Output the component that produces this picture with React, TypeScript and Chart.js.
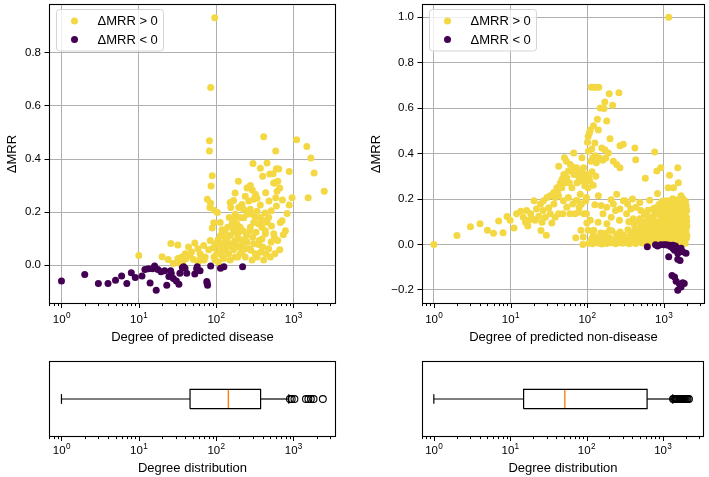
import React, { useEffect, useRef } from 'react';
import { Chart, registerables } from 'chart.js';

Chart.register(...registerables);

const FONT = '"Liberation Sans", Arial, Helvetica, sans-serif';
const YELLOW = '#f3d843';
const PURPLE = '#440154';
const GRID = '#b0b0b0';
const MEDIAN = '#ff7f0e';

// ---------- axis ticks / labels ----------
const xMajorTicks = [1, 10, 100, 1000];
const xMajorExponents = ['0', '1', '2', '3'];
const xDecades = [0.1, 1, 10, 100, 1000];
const xMinorMultipliers = [2, 3, 4, 5, 6, 7, 8, 9];
const diseaseYTicks = [0, 0.2, 0.4, 0.6, 0.8];
const nonDiseaseYTicks = [-0.2, 0, 0.2, 0.4, 0.6, 0.8, 1.0];
const legendLabels = ['ΔMRR > 0', 'ΔMRR < 0'];
const yTitle = 'ΔMRR';
const diseaseXTitle = 'Degree of predicted disease';
const nonDiseaseXTitle = 'Degree of predicted non-disease';
const boxXTitle = 'Degree distribution';

// ---------- data: [degree, ΔMRR] ----------
const diseasePositive: [number, number][] = [
  [10, 0.036], [20, 0.032], [26, 0.082], [32, 0.076], [24, 0.021], [28, 0.006], [36, 0.031], [40, 0.043],
  [44, 0.068], [48, 0.05], [53, 0.083], [58, 0.062], [62, 0.043], [69, 0.074], [72, 0.031], [80, 0.058],
  [84, 0.093], [82, 0.469], [82, 0.43], [85, 0.67], [96, 0.933], [89, 0.337], [86, 0.298], [77, 0.248],
  [85, 0.233], [83, 0.217], [94, 0.207], [104, 0.198], [89, 0.14], [93, 0.16], [113, 0.161], [119, 0.133],
  [152, 0.236], [168, 0.244], [194, 0.316], [176, 0.272], [251, 0.291], [277, 0.3], [294, 0.283], [306, 0.248],
  [338, 0.252], [322, 0.267], [300, 0.383], [373, 0.365], [412, 0.484], [400, 0.335], [455, 0.385], [493, 0.344],
  [545, 0.345], [567, 0.31], [590, 0.43], [602, 0.363], [645, 0.362], [627, 0.316], [614, 0.279], [665, 0.291],
  [880, 0.353], [1100, 0.473], [1490, 0.447], [1680, 0.404], [1850, 0.347], [2500, 0.279], [1550, 0.254], [960, 0.254],
  [828, 0.195], [880, 0.227], [720, 0.246], [740, 0.115], [665, 0.058], [567, 0.103], [520, 0.148], [455, 0.162],
  [430, 0.197], [373, 0.227], [338, 0.203], [277, 0.211], [251, 0.192], [227, 0.179], [205, 0.143], [186, 0.155],
  [168, 0.128], [152, 0.112], [138, 0.096], [125, 0.081], [113, 0.062], [102, 0.043], [94, 0.031], [107, 0.012],
  [125, 0.025], [145, 0.043], [168, 0.058], [190, 0.071], [216, 0.05], [238, 0.031], [264, 0.062], [292, 0.019],
  [322, 0.043], [355, 0.078], [392, 0.099], [433, 0.118], [478, 0.062], [515, 0.087], [556, 0.118], [575, 0.043],
  [627, 0.093], [678, 0.161], [713, 0.167], [788, 0.13], [148, 0.18], [177, 0.192], [196, 0.217], [216, 0.229],
  [238, 0.26], [264, 0.242], [292, 0.192], [322, 0.18], [355, 0.155], [392, 0.143], [433, 0.13], [478, 0.18],
  [515, 0.205], [483, 0.242], [437, 0.273], [590, 0.254], [602, 0.223], [556, 0.31],
  [92, 0.066], [98, 0.081], [106, 0.096], [114, 0.112], [131, 0.124], [141, 0.143], [160, 0.155], [172, 0.174],
  [186, 0.118], [200, 0.099], [222, 0.13], [246, 0.112], [272, 0.13], [297, 0.105], [328, 0.124], [362, 0.093],
  [400, 0.068], [441, 0.043], [306, 0.081], [251, 0.087], [205, 0.043], [176, 0.031], [152, 0.019], [132, 0.056],
  [119, 0.037], [97, 0.019], [70, 0.019], [63, 0.025], [59, 0.012], [51, 0.021], [46, 0.037], [41, 0.025],
  [37, 0.012], [34, 0.006], [32, 0.025], [338, 0.031], [412, 0.019], [503, 0.031], [373, 0.18], [412, 0.167],
  [306, 0.161], [277, 0.143], [227, 0.211], [205, 0.18], [155, 0.217], [172, 0.136], [196, 0.124], [222, 0.074],
  [233, 0.062], [282, 0.056], [380, 0.05], [190, 0.031], [113, 0.081], [122, 0.118], [131, 0.099], [145, 0.071],
  [160, 0.081], [176, 0.093], [196, 0.068], [216, 0.093],
];

const diseaseNegative: [number, number][] = [
  [1, -0.06], [2, -0.035], [3, -0.069], [4, -0.069], [5, -0.057], [6, -0.041], [7, -0.069], [8, -0.029],
  [9, -0.047], [11, -0.041], [12, -0.016], [13.3, -0.014], [14, -0.067], [15, -0.014], [16, -0.003], [16.8, -0.095],
  [17.7, -0.016], [19.4, -0.025], [21.6, -0.021], [23, -0.076], [24.5, -0.043], [26.3, -0.031], [28, -0.05], [30.6, -0.06],
  [33, -0.072], [36.6, -0.01], [38, -0.006], [41.7, -0.031], [53, -0.033], [57, -0.006], [62, -0.021], [75.8, -0.062],
  [77.5, -0.076], [76.5, -0.068], [85, -0.003], [114, -0.012], [126, -0.006], [220, -0.006], [34, -0.031], [39.6, -0.012],
  [25.8, -0.021], [56, -0.014],
];

const nonDiseasePositive: [number, number][] = [
  [1, 0], [2, 0.039], [3, 0.078], [4, 0.091], [5, 0.062], [6, 0.049], [7, 0.103], [8, 0.052],
  [9, 0.123], [9.9, 0.106], [11.1, 0.072], [12, 0.135], [13.6, 0.146], [14.7, 0.12], [16.2, 0.149], [16.8, 0.081],
  [18.3, 0.135], [20.3, 0.192], [21.8, 0.156], [23.4, 0.124], [25, 0.061], [26.6, 0.149], [29.4, 0.041], [31.5, 0.161],
  [34.6, 0.094], [36.8, 0.178], [38.4, 0.207], [41.2, 0.226], [42.5, 0.344], [44.9, 0.272], [47, 0.287], [49.6, 0.308],
  [50.5, 0.381], [53.6, 0.366], [57, 0.323], [60.4, 0.352], [63.2, 0.25], [66.7, 0.402], [68, 0.337], [71, 0.03],
  [74, 0.272], [78, 0.298], [81.4, 0.221], [85.6, 0.381], [89.9, 0.337], [88, 0.0], [93, 0.258], [96, 0.192],
  [99, 0.094], [100, 0.308], [103, 0.475], [110, 0.504], [112, 0.366], [113, 0.692], [122, 0.692], [134, 0.692],
  [142, 0.692], [121, 0.522], [126, 0.446], [136, 0.551], [140, 0.504], [148, 0.6], [155, 0.424], [166, 0.598],
  [170, 0.627], [180, 0.543], [194, 0.663], [215, 0.612], [260, 0.667], [199, 0.465], [170, 0.417], [189, 0.402],
  [220, 0.366], [268, 0.434], [296, 0.441], [420, 0.424], [760, 0.407], [430, 0.373], [268, 0.337], [243, 0.352],
  [574, 0.291], [812, 0.323], [914, 0.337], [1188, 0.304], [1522, 0.337], [1550, 0.272], [1340, 0.25], [1140, 0.25],
  [828, 0.224], [655, 0.195], [486, 0.185], [390, 0.2], [310, 0.192], [243, 0.221], [205, 0.197], [140, 0.214],
  [126, 0.175], [152, 0.171], [180, 0.164], [220, 0.178], [268, 0.156], [327, 0.135], [399, 0.113], [486, 0.113],
  [593, 0.135], [723, 0.156], [882, 0.178], [1076, 0.192], [1312, 0.2], [1680, 0.214], [1850, 0.178], [1850, 0.135],
  [1767, 0.106], [1850, 0.062], [1767, 0.019], [1160, 1.0],
  [101, 0.45], [104, 0.41], [107, 0.49], [115, 0.42], [118, 0.38], [128, 0.39], [132, 0.36], [145, 0.38],
  [160, 0.37], [175, 0.38], [105, 0.3], [108, 0.28], [116, 0.32], [120, 0.26], [130, 0.3],
  [110, 0.106], [122, 0.062], [139, 0.098], [161, 0.135], [181, 0.091], [206, 0.12], [234, 0.149], [264, 0.106],
  [297, 0.192], [337, 0.178], [372, 0.156], [432, 0.164], [501, 0.149], [169, 0.048], [196, 0.062], [103, 0.062],
  [89, 0.033], [98, 0.135], [83, 0.062], [77, 0.142], [71, 0.192], [98, 0.207], [103, 0.25],
  [24.6, 0.178], [27, 0.192], [29.9, 0.207], [33, 0.214], [36.6, 0.229], [40.3, 0.25], [43.6, 0.258], [46.7, 0.25],
  [51.5, 0.272], [54.2, 0.294], [58.6, 0.272], [62.8, 0.323], [67.3, 0.308], [72.8, 0.337], [78.8, 0.323], [85.2, 0.279],
  [90.6, 0.308], [98.1, 0.279], [42.3, 0.214], [49, 0.192], [56.9, 0.207], [64.7, 0.178], [74.3, 0.192], [84.4, 0.178],
  [90.6, 0.135], [78.8, 0.164], [69.3, 0.135], [59.7, 0.135], [54.2, 0.164], [48.3, 0.135], [42.3, 0.135], [38.3, 0.12],
  [33, 0.135], [28.5, 0.12], [25.8, 0.098], [21.1, 0.106], [19.2, 0.113], [17.4, 0.106], [15.7, 0.098],
  [105, 0.005], [112, 0.015], [118, 0.003], [125, 0.01], [132, 0.02], [140, 0.006], [148, 0.012], [155, 0.002],
  [163, 0.018], [172, 0.008], [180, 0.004], [190, 0.014], [200, 0.022], [210, 0.007], [222, 0.012], [235, 0.003],
  [248, 0.017], [260, 0.009], [275, 0.025], [290, 0.005], [305, 0.014], [320, 0.02], [338, 0.008], [355, 0.003],
  [372, 0.016], [390, 0.026], [410, 0.01], [430, 0.004], [452, 0.018], [475, 0.03], [498, 0.012], [522, 0.006],
  [548, 0.022], [575, 0.035], [602, 0.015], [630, 0.004], [660, 0.027], [690, 0.012], [720, 0.04], [750, 0.02],
  [785, 0.008], [820, 0.032], [855, 0.016], [890, 0.045], [930, 0.025], [970, 0.01], [1010, 0.05], [1050, 0.03],
  [1100, 0.015], [1150, 0.06], [1200, 0.035], [1260, 0.02], [1320, 0.055], [1380, 0.04], [1450, 0.07], [1520, 0.05],
  [1600, 0.03], [1680, 0.065], [1760, 0.045], [1850, 0.02],
  [120, 0.04], [150, 0.05], [180, 0.035], [210, 0.06], [240, 0.045], [270, 0.055], [300, 0.04], [340, 0.065],
  [380, 0.05], [420, 0.07], [460, 0.045], [500, 0.075], [540, 0.06], [590, 0.085], [640, 0.055], [690, 0.09],
  [740, 0.07], [800, 0.1], [860, 0.08], [920, 0.11], [980, 0.09], [1040, 0.12], [1100, 0.095], [1170, 0.13],
  [1240, 0.105], [1310, 0.14], [1390, 0.115], [1470, 0.15], [1560, 0.125], [1650, 0.16], [1750, 0.135], [1850, 0.17],
  [1950, 0.145],
  [560, 0.13], [620, 0.15], [700, 0.12], [760, 0.16], [830, 0.14], [900, 0.17], [960, 0.15], [1020, 0.18],
  [1090, 0.16], [1160, 0.19], [1230, 0.17], [1300, 0.2], [1370, 0.18], [1440, 0.195], [1520, 0.175], [1600, 0.2],
  [1700, 0.185], [1800, 0.195], [1900, 0.16], [1980, 0.12], [2000, 0.08], [2000, 0.04],
  [950, 0.06], [1000, 0.1], [1080, 0.07], [1150, 0.11], [1220, 0.08], [1290, 0.12], [1360, 0.09], [1430, 0.13],
  [1500, 0.1], [1580, 0.09], [1660, 0.11], [1740, 0.1], [1820, 0.12], [1900, 0.09], [1950, 0.06], [1120, 0.04],
  [1280, 0.01], [1420, 0.02], [1560, 0.01], [1700, 0.015], [1900, 0.005], [880, 0.06], [780, 0.045], [680, 0.06],
  [600, 0.05], [520, 0.04], [450, 0.06],
  [115, 0.025], [135, 0.03], [165, 0.028], [195, 0.03], [230, 0.02], [265, 0.035], [310, 0.03], [360, 0.035],
  [400, 0.042], [440, 0.03], [490, 0.05], [530, 0.025], [560, 0.055], [610, 0.035], [650, 0.07], [700, 0.05],
  [760, 0.085], [810, 0.06], [870, 0.1], [940, 0.075], [1000, 0.13], [1060, 0.085], [1130, 0.15], [1190, 0.12],
  [1250, 0.16], [1330, 0.13], [1400, 0.17], [1480, 0.14], [1550, 0.185], [1630, 0.15], [1720, 0.17], [1800, 0.14],
  [1880, 0.11], [1950, 0.1], [1990, 0.03], [1700, 0.08], [1600, 0.12], [1500, 0.06], [1400, 0.1], [1300, 0.07],
  [1200, 0.005], [1100, 0.14], [1000, 0.02], [900, 0.13], [800, 0.03], [700, 0.1], [650, 0.11], [580, 0.1],
  [520, 0.08], [470, 0.1], [410, 0.09], [350, 0.1], [1780, 0.2], [1680, 0.19], [1580, 0.16], [1460, 0.18],
  [1350, 0.15], [1250, 0.19], [1150, 0.17], [1050, 0.15], [950, 0.19], [850, 0.17], [750, 0.13], [1920, 0.19],
  [1960, 0.17], [1990, 0.15], [1990, 0.1],
];

const nonDiseaseNegative: [number, number][] = [
  [610, -0.01], [780, -0.001], [828, -0.007], [914, -0.001], [1000, -0.001], [1140, -0.003], [1188, -0.003], [1240, -0.01],
  [1312, -0.017], [1380, -0.025], [1449, -0.013], [1522, -0.022], [1600, -0.027], [1680, -0.017], [1522, -0.039], [1767, -0.032],
  [1951, -0.039], [1160, -0.054], [1522, -0.065], [1630, -0.071], [1280, -0.137], [1380, -0.143], [1449, -0.162], [1600, -0.174],
  [1680, -0.187], [1767, -0.169], [1850, -0.172], [1522, -0.201], [1312, -0.003], [1420, -0.007], [1076, -0.001],
];

// box stats: [whisker low, Q1, median, Q3, whisker high]
const diseaseBox = [1, 46, 144, 376, 870];
const diseaseOutliers = [900, 950, 1030, 1450, 1560, 1680, 1820, 2400];
const nonDiseaseBox = [1, 15, 52, 622, 1345];
const nonDiseaseOutliers = [1360, 1400, 1440, 1480, 1520, 1560, 1600, 1640, 1680, 1720, 1760, 1800, 1850, 1900, 1950, 2000, 2060, 2120, 2200];

// ---------- style constants ----------
const BOX_HALF = 0.1275;
const CAP_HALF = 0.064;
const TICK_FONT = 11.5;
const SUP_FONT = 8.2;
const POINT_R = 3.5;

const toXY = (arr: [number, number][]) => arr.map(([x, y]) => ({ x, y }));

const fmtY = (v: any) => {
  const n = Number(v);
  const s = Math.abs(n).toFixed(1);
  return n < -1e-9 ? '\u2212' + s : s;
};

function decorPlugin(cfg: { legend: boolean; labelOffset: number }) {
  return {
    id: 'decor',
    afterDatasetsDraw(chart: any) {
      const { ctx, chartArea: a } = chart;
      const xs = chart.scales.x;
      ctx.save();
      // frame
      ctx.strokeStyle = '#000';
      ctx.lineWidth = 1.1;
      const l = Math.round(a.left) + 0.5;
      const r = Math.round(a.right) - 0.5;
      const t = Math.round(a.top) + 0.5;
      const b = Math.round(a.bottom) - 0.5;
      ctx.strokeRect(l, t, r - l, b - t);
      ctx.lineWidth = 1;
      // x ticks
      const drawTick = (v: number, len: number) => {
        const px = Math.round(xs.getPixelForValue(v)) + 0.5;
        ctx.beginPath();
        ctx.moveTo(px, b);
        ctx.lineTo(px, b + len);
        ctx.stroke();
      };
      xDecades.forEach((d) => {
        xMinorMultipliers.forEach((m) => {
          const v = d * m;
          if (v >= xs.min && v <= xs.max) drawTick(v, 2.6);
        });
      });
      xMajorTicks.forEach((v) => drawTick(v, 4.5));
      // x tick labels 10^k
      ctx.fillStyle = '#000';
      ctx.textBaseline = 'alphabetic';
      ctx.textAlign = 'left';
      xMajorTicks.forEach((v, i) => {
        const px = xs.getPixelForValue(v);
        ctx.font = `${TICK_FONT}px ${FONT}`;
        const wBase = ctx.measureText('10').width;
        ctx.font = `${SUP_FONT}px ${FONT}`;
        const wExp = ctx.measureText(xMajorExponents[i]).width;
        const x0 = px - (wBase + wExp) / 2;
        const y0 = a.bottom + cfg.labelOffset;
        ctx.font = `${TICK_FONT}px ${FONT}`;
        ctx.fillText('10', x0, y0);
        ctx.font = `${SUP_FONT}px ${FONT}`;
        ctx.fillText(xMajorExponents[i], x0 + wBase + 0.3, y0 - 4.6);
      });
      // legend
      if (cfg.legend) {
        const lx = a.left + 7;
        const ly = a.top + 5;
        const w = 107;
        const h = 41.5;
        ctx.beginPath();
        ctx.roundRect(lx + 0.5, ly + 0.5, w, h, 3);
        ctx.fillStyle = 'rgba(255,255,255,0.8)';
        ctx.fill();
        ctx.strokeStyle = '#d5d5d5';
        ctx.stroke();
        const ds = chart.data.datasets;
        [0, 1].forEach((i) => {
          const cy = ly + 12 + i * 18.5;
          ctx.beginPath();
          ctx.arc(lx + 18.5, cy, POINT_R, 0, Math.PI * 2);
          ctx.fillStyle = ds[i].backgroundColor;
          ctx.fill();
          ctx.fillStyle = '#000';
          ctx.font = `13px ${FONT}`;
          ctx.textBaseline = 'middle';
          ctx.fillText(ds[i].label, lx + 41.5, cy + 0.5);
        });
      }
      ctx.restore();
    },
  };
}

type ScatterCfg = {
  pos: [number, number][];
  neg: [number, number][];
  xMin: number;
  xMax: number;
  yMin: number;
  yMax: number;
  yTicks: number[];
  xTitle: string;
  yAxisWidth: number;
  xAxisHeight: number;
  padRight: number;
  yTitlePad: number;
  xTitlePad: number;
};

function makeScatter(canvas: HTMLCanvasElement, c: ScatterCfg) {
  return new Chart(canvas, {
    type: 'scatter',
    data: {
      datasets: [
        { label: legendLabels[0], data: toXY(c.pos), backgroundColor: YELLOW, borderWidth: 0, pointRadius: POINT_R, order: 1 },
        { label: legendLabels[1], data: toXY(c.neg), backgroundColor: PURPLE, borderWidth: 0, pointRadius: POINT_R, order: 0 },
      ],
    },
    options: {
      animation: false,
      responsive: false,
      maintainAspectRatio: false,
      events: [],
      layout: { padding: { left: 0, top: 1, right: c.padRight, bottom: 0 } },
      plugins: { legend: { display: false }, tooltip: { enabled: false } },
      scales: {
        x: {
          type: 'logarithmic',
          min: c.xMin,
          max: c.xMax,
          bounds: 'data',
          afterBuildTicks: (s: any) => {
            s.ticks = xMajorTicks.map((v) => ({ value: v, major: true }));
          },
          afterFit: (s: any) => {
            s.height = c.xAxisHeight;
            s.paddingLeft = 0;
            s.paddingRight = 0;
          },
          grid: { color: GRID, lineWidth: 1, drawTicks: false },
          border: { display: false },
          ticks: { display: false },
          title: { display: true, text: c.xTitle, color: '#000', font: { family: FONT, size: 13 }, padding: { top: 0, bottom: c.xTitlePad } },
        },
        y: {
          type: 'linear',
          min: c.yMin,
          max: c.yMax,
          bounds: 'data',
          afterBuildTicks: (s: any) => {
            s.ticks = c.yTicks.map((v) => ({ value: v }));
          },
          afterFit: (s: any) => {
            s.width = c.yAxisWidth;
            s.paddingTop = 0;
            s.paddingBottom = 0;
          },
          grid: { color: GRID, lineWidth: 1, drawTicks: true, tickLength: 4.5, tickColor: '#000' },
          border: { display: false },
          ticks: { color: '#000', font: { family: FONT, size: TICK_FONT }, padding: 3.5, callback: fmtY },
          title: { display: true, text: yTitle, color: '#000', font: { family: FONT, size: 13 }, padding: { top: c.yTitlePad, bottom: 0 } },
        },
      },
    } as any,
    plugins: [decorPlugin({ legend: true, labelOffset: 18.5 })],
  });
}

type BoxCfg = {
  stats: number[];
  outliers: number[];
  xMin: number;
  xMax: number;
  padLeft: number;
  padRight: number;
};

function makeBox(canvas: HTMLCanvasElement, c: BoxCfg) {
  const [wl, q1, med, q3, wh] = c.stats;
  const line = (pts: { x: number; y: number }[], color = '#000', width = 1.2) => ({
    data: pts,
    showLine: true,
    borderColor: color,
    borderWidth: width,
    pointRadius: 0,
    fill: false,
    tension: 0,
  });
  return new Chart(canvas, {
    type: 'scatter',
    data: {
      datasets: [
        line([
          { x: q1, y: 1 - BOX_HALF }, { x: q3, y: 1 - BOX_HALF }, { x: q3, y: 1 + BOX_HALF },
          { x: q1, y: 1 + BOX_HALF }, { x: q1, y: 1 - BOX_HALF },
        ]),
        line([{ x: wl, y: 1 }, { x: q1, y: 1 }]),
        line([{ x: q3, y: 1 }, { x: wh, y: 1 }]),
        line([{ x: wl, y: 1 - CAP_HALF }, { x: wl, y: 1 + CAP_HALF }]),
        line([{ x: wh, y: 1 - CAP_HALF }, { x: wh, y: 1 + CAP_HALF }]),
        line([{ x: med, y: 1 - BOX_HALF }, { x: med, y: 1 + BOX_HALF }], MEDIAN, 1.4),
        {
          data: c.outliers.map((x) => ({ x, y: 1 })),
          pointRadius: 3.4,
          borderColor: '#000',
          borderWidth: 1.1,
          backgroundColor: 'rgba(0,0,0,0)',
        },
      ],
    },
    options: {
      animation: false,
      responsive: false,
      maintainAspectRatio: false,
      events: [],
      layout: { padding: { left: c.padLeft, top: 11, right: c.padRight, bottom: 0 } },
      plugins: { legend: { display: false }, tooltip: { enabled: false } },
      scales: {
        x: {
          type: 'logarithmic',
          min: c.xMin,
          max: c.xMax,
          bounds: 'data',
          afterBuildTicks: (s: any) => {
            s.ticks = xMajorTicks.map((v) => ({ value: v, major: true }));
          },
          afterFit: (s: any) => {
            s.height = 40;
            s.paddingLeft = 0;
            s.paddingRight = 0;
          },
          grid: { display: false },
          border: { display: false },
          ticks: { display: false },
          title: { display: true, text: boxXTitle, color: '#000', font: { family: FONT, size: 13 }, padding: { top: 0, bottom: 0.5 } },
        },
        y: { type: 'linear', display: false, min: 0.5, max: 1.5 },
      },
    } as any,
    plugins: [decorPlugin({ legend: false, labelOffset: 17 })],
  });
}

export default function App() {
  const r1 = useRef<HTMLCanvasElement>(null);
  const r2 = useRef<HTMLCanvasElement>(null);
  const r3 = useRef<HTMLCanvasElement>(null);
  const r4 = useRef<HTMLCanvasElement>(null);

  useEffect(() => {
    const charts: Chart[] = [];
    charts.push(
      makeScatter(r1.current!, {
        pos: diseasePositive, neg: diseaseNegative, xMin: 0.69, xMax: 3550, yMin: -0.1465, yMax: 0.9845,
        yTicks: diseaseYTicks, xTitle: diseaseXTitle, yAxisWidth: 49, xAxisHeight: 46, padRight: 19, yTitlePad: 4.2, xTitlePad: 5.2,
      })
    );
    charts.push(
      makeScatter(r2.current!, {
        pos: nonDiseasePositive, neg: nonDiseaseNegative, xMin: 0.7, xMax: 3450, yMin: -0.262, yMax: 1.058,
        yTicks: nonDiseaseYTicks, xTitle: nonDiseaseXTitle, yAxisWidth: 67, xAxisHeight: 46, padRight: 1, yTitlePad: 13.7, xTitlePad: 5.2,
      })
    );
    charts.push(makeBox(r3.current!, { stats: diseaseBox, outliers: diseaseOutliers, xMin: 0.69, xMax: 3550, padLeft: 49, padRight: 19 }));
    charts.push(makeBox(r4.current!, { stats: nonDiseaseBox, outliers: nonDiseaseOutliers, xMin: 0.7, xMax: 3450, padLeft: 67, padRight: 1 }));
    return () => charts.forEach((ch) => ch.destroy());
  }, []);

  return (
    <div style={{ position: 'fixed', left: 0, top: 0, width: 709, height: 477, background: '#fff' }}>
      <canvas ref={r1} width={355} height={350} style={{ position: 'absolute', left: 0, top: 0 }} />
      <canvas ref={r2} width={354} height={350} style={{ position: 'absolute', left: 355, top: 0 }} />
      <canvas ref={r3} width={355} height={127} style={{ position: 'absolute', left: 0, top: 350 }} />
      <canvas ref={r4} width={354} height={127} style={{ position: 'absolute', left: 355, top: 350 }} />
    </div>
  );
}
